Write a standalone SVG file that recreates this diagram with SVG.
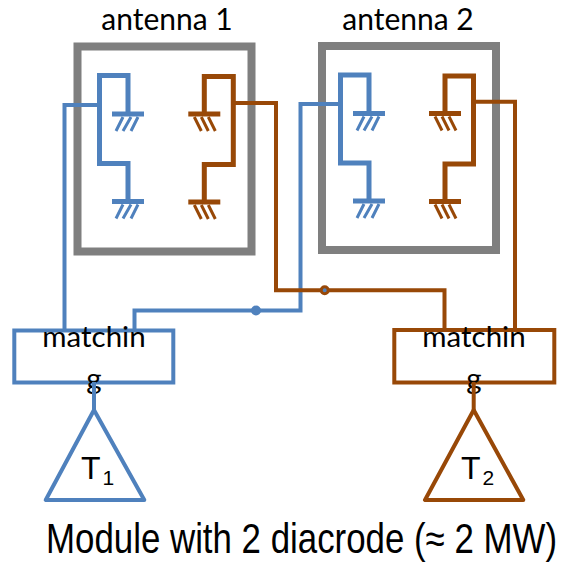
<svg xmlns="http://www.w3.org/2000/svg" width="562" height="562" viewBox="0 0 562 562">
<style>
.frame{fill:none;stroke:#7f7f7f;stroke-width:8}
.b{stroke:#4f81bd}.o{stroke:#984807}
.el{fill:none;stroke-width:5;stroke-linecap:square;stroke-linejoin:miter}
.bar{fill:none;stroke-width:5}
.h{fill:none;stroke-width:3}
.lead{fill:none;stroke-width:4;stroke-linejoin:miter}
.box{fill:#fff;stroke-width:4}
.tri{fill:#fff;stroke-width:4;stroke-linejoin:round}
.lab{font-family:"Lato","Open Sans",sans-serif;font-size:29.500px;fill:#000}
.ant{font-size:30px}
.sans{font-family:"Liberation Sans",Arial,sans-serif;fill:#000}
</style>
<defs>
<g id="gndB"><path class="bar b" d="M-16 0H16"/><path class="h b" d="M-5 3L-12 17M3 3L-5 17M10 3L3 17"/></g>
<g id="gndO"><path class="bar o" d="M-16 0H16"/><path class="h o" d="M-10 3L-3 17M-3 3L4 17M4 3L11 17"/></g>
</defs>
<g id="antenna-1">
<rect class="frame" x="77.500" y="46.500" width="174" height="205"/>
<text class="lab ant" x="167" y="30" text-anchor="middle">antenna 1</text>
<path class="el b" d="M128 112V75.500H99.500V163.500H128V199"/>
<use href="#gndB" x="128" y="114"/><use href="#gndB" x="128" y="201.500"/>
<path class="el o" d="M204.300 112V76.500H233.300V164.500H204.300V200"/>
<use href="#gndO" x="204.300" y="114"/><use href="#gndO" x="204.300" y="202"/>
</g>
<g id="antenna-2">
<rect class="frame" x="322" y="46" width="174" height="204"/>
<text class="lab ant" x="408" y="30" text-anchor="middle">antenna 2</text>
<path class="el b" d="M369 111V75H340.500V163H369V199"/>
<use href="#gndB" x="369" y="113.500"/><use href="#gndB" x="369" y="201"/>
<path class="el o" d="M445 111V76H473.500V164H445V200"/>
<use href="#gndO" x="445" y="113.500"/><use href="#gndO" x="445" y="201.500"/>
</g>
<g id="connectors">
<path class="lead b" d="M99.500 105H64.500V330"/>
<path class="lead b" d="M340.500 104H300.500V310.500H134.500V330"/>
<path class="lead o" d="M233.300 103H276V290.300H444.500V330"/>
<path class="lead o" d="M473.500 101.700H515V330"/>
<circle cx="256" cy="310.500" r="5" fill="#4f81bd"/>
<circle cx="324.700" cy="290.300" r="3.500" fill="#4f81bd" stroke="#984807" stroke-width="3"/>
</g>
<g id="matching-1">
<rect class="box b" x="14.300" y="330.500" width="159" height="52"/>
<text class="lab" x="94" y="346.700" text-anchor="middle">matchin</text>
<text class="lab" x="94" y="389" text-anchor="middle">g</text>
</g>
<g id="matching-2">
<rect class="box o" x="394.300" y="330" width="160" height="52.500"/>
<text class="lab" x="474" y="346.700" text-anchor="middle">matchin</text>
<text class="lab" x="474" y="389" text-anchor="middle">g</text>
</g>
<g id="tube-1">
<path class="lead b" d="M94 382V410"/>
<path class="tri b" d="M94 410L45.700 500H144.300Z"/>
<text class="sans" x="81" y="479.300" font-size="32">T<tspan font-size="21" dx="2" dy="6">1</tspan></text>
</g>
<g id="tube-2">
<path class="lead o" d="M473.700 382V410"/>
<path class="tri o" d="M473.700 410L425 500H523.300Z"/>
<text class="sans" x="461" y="479.300" font-size="32">T<tspan font-size="21" dx="2" dy="6">2</tspan></text>
</g>
<text id="caption" class="sans" transform="translate(46 553) scale(.83 1)" font-size="42">Module with 2 diacrode (≈ 2 MW)</text>
</svg>
